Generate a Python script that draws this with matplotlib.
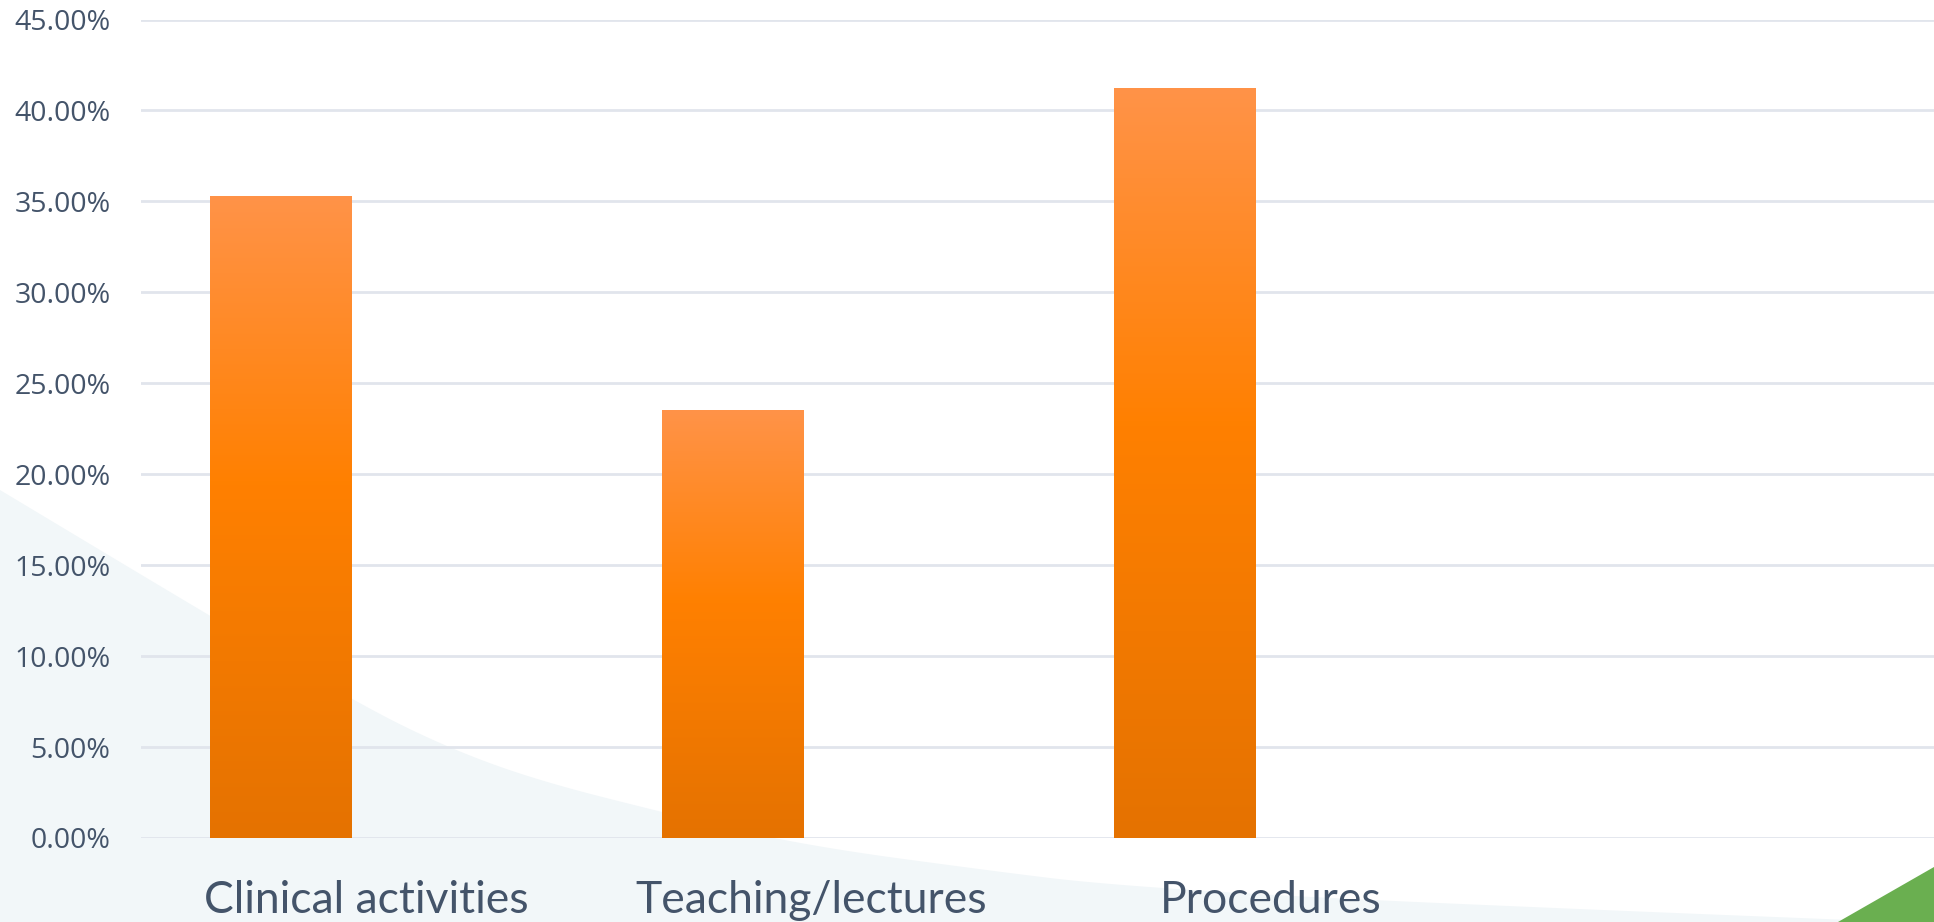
import numpy as np
import matplotlib
matplotlib.use("Agg")
import matplotlib.pyplot as plt
from matplotlib.patches import Polygon
from matplotlib.colors import LinearSegmentedColormap
from matplotlib.transforms import ScaledTranslation
from matplotlib.ticker import FuncFormatter, MultipleLocator

# Share of responses per activity (percent)
categories = ["Clinical activities", "Teaching/lectures", "Procedures"]
shares = [35.29, 23.53, 41.18]
y_max = 45

TEXT = "#44546A"
GRID = "#E1E5EC"

fig = plt.figure(figsize=(19.34, 9.22), dpi=100)
fig.patch.set_facecolor("white")


def chaikin(pts, rounds=4):
    """Round off a polyline by corner cutting."""
    pts = np.asarray(pts, float)
    for _ in range(rounds):
        a, b = pts[:-1], pts[1:]
        q = 0.75 * a + 0.25 * b
        r = 0.25 * a + 0.75 * b
        mid = np.empty((2 * len(a), 2))
        mid[0::2], mid[1::2] = q, r
        pts = np.vstack([pts[:1], mid, pts[-1:]])
    return pts


# Soft slide background: pale sweep in the lower left, green corner bottom right
W, H = 1934, 922
edge = [(0, 490), (180, 598), (357, 703), (446, 747), (536, 780),
        (661, 812), (800, 845), (1000, 872), (1100, 884), (1300, 897),
        (1600, 910), (1850, 920)]
curve = chaikin(edge)
sweep = np.vstack([curve, [(1850, 922), (0, 922)]])
fig.patches.append(Polygon(np.column_stack([sweep[:, 0] / W, 1 - sweep[:, 1] / H]),
                           closed=True, transform=fig.transFigure,
                           facecolor="#F2F7F9", edgecolor="none", zorder=-2))
corner = [(1838, 922), (1934, 867), (1934, 922)]
fig.patches.append(Polygon([(x / W, 1 - y / H) for x, y in corner], closed=True,
                           transform=fig.transFigure, facecolor="#6AAF50",
                           edgecolor="none", zorder=-2))

ax = fig.add_axes([141 / W, 1 - 838 / H, 1 - 141 / W, (838 - 19.5) / H])
ax.patch.set_alpha(0)

x = np.arange(len(categories))
bar_width = 0.312
bars = ax.bar(x, shares, width=bar_width, color="none", edgecolor="none", zorder=3)

# Vertical orange gradient inside each bar
cmap = LinearSegmentedColormap.from_list(
    "bar_orange", [(0.0, "#E57200"), (0.55, "#FF8000"), (1.0, "#FF9348")])
grad = np.linspace(0, 1, 256).reshape(-1, 1)
for b in bars:
    x0, y0 = b.get_x(), b.get_y()
    ax.imshow(grad, cmap=cmap, origin="lower", aspect="auto",
              extent=[x0, x0 + b.get_width(), y0, y0 + b.get_height()],
              zorder=3, interpolation="bicubic")

ax.set_xlim(-0.3086, 3.658)
ax.set_ylim(0, y_max)
ax.yaxis.set_major_locator(MultipleLocator(5))
ax.yaxis.set_major_formatter(FuncFormatter(lambda v, p: f"{v:.2f}%"))
ax.grid(axis="y", color=GRID, linewidth=2)
ax.set_axisbelow(True)
for s in ax.spines.values():
    s.set_visible(False)

ax.tick_params(axis="y", length=0, pad=22, labelsize=20.5, labelcolor=TEXT)
for t in ax.get_yticklabels():
    t.set_fontfamily(["Open Sans", "DejaVu Sans"])

ax.set_xticks(x, categories)
ax.tick_params(axis="x", length=0, pad=30, labelsize=32, labelcolor=TEXT)
label_shift_pt = [62, 57, 62]
for t, dx in zip(ax.get_xticklabels(), label_shift_pt):
    t.set_fontfamily(["Lato", "DejaVu Sans"])
    t.set_fontweight("normal")
    t.set_transform(t.get_transform() + ScaledTranslation(dx / 72, 0, fig.dpi_scale_trans))

fig.savefig("out.png", dpi=100)
